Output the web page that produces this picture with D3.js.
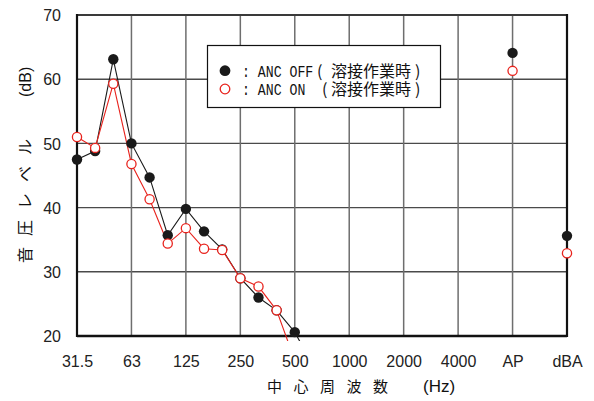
<!DOCTYPE html>
<html><head><meta charset="utf-8">
<script src="https://cdn.jsdelivr.net/npm/d3@7"></script>
<style>
html,body{margin:0;padding:0;background:#fff;}
svg{display:block;}
</style></head>
<body>
<svg id="chart" width="594" height="401"></svg>
<script>
// 1/3 octave bands (Hz)
const bands = ["31.5","40","50","63","80","100","125","160","200","250","315","400","500","630"];
const offLevels = [47.5, 48.8, 63.1, 50.0, 44.7, 35.7, 39.8, 36.3, 33.5, 29.0, 26.0, 24.0, 20.6, 15.4];
const onLevels  = [51.0, 49.3, 59.3, 46.8, 41.3, 34.4, 36.8, 33.6, 33.4, 29.0, 27.7, 24.0, 16.2, null];
// x-axis categories (octave bands + overall values)
const categories = ["31.5","63","125","250","500","1000","2000","4000","AP","dBA"];
const overallLabels = ["AP","dBA"];
const overallOff = [64.1, 35.6];
const overallOn  = [61.3, 32.9];
const yTicks = [20,30,40,50,60,70];
const legendLabels = ["ANC OFF","ANC ON"];
const legendNote = "溶接作業時";

const svg = d3.select("#chart");
const L = 77, R = 567, T = 15, B = 336;
const xCat = d3.scalePoint().domain(categories).range([L, R]);
const xThird = d3.scaleLinear().domain([0, (categories.length - 1) * 3]).range([L, R]);
const y = d3.scaleLinear().domain([20, 70]).range([B, T]);
const bandX = b => xThird(bands.indexOf(b));

// grid
const g = svg.append("g");
g.selectAll("line.h").data(yTicks.filter(v => v > 20 && v < 70)).join("line")
  .attr("x1", L).attr("x2", R).attr("y1", d => y(d)).attr("y2", d => y(d))
  .attr("stroke", "#4a4a4a").attr("stroke-width", 1.4);
g.selectAll("line.v").data(categories.slice(1, -1)).join("line")
  .attr("x1", d => xCat(d)).attr("x2", d => xCat(d)).attr("y1", T).attr("y2", B)
  .attr("stroke", "#6e6e6e").attr("stroke-width", 1.5);
// frame
g.append("line").attr("x1", L).attr("x2", R).attr("y1", T).attr("y2", T).attr("stroke", "#3a3a3a").attr("stroke-width", 2);
g.append("line").attr("x1", L).attr("x2", L).attr("y1", T - 1).attr("y2", B + 1).attr("stroke", "#111").attr("stroke-width", 2.2);
g.append("line").attr("x1", R).attr("x2", R).attr("y1", T - 1).attr("y2", B + 1).attr("stroke", "#111").attr("stroke-width", 2.2);
g.append("line").attr("x1", L).attr("x2", R).attr("y1", B).attr("y2", B).attr("stroke", "#111").attr("stroke-width", 2.4);

// axes labels
const xAxis = d3.axisBottom(xCat).tickSize(0).tickPadding(0);
const xa = svg.append("g").attr("transform", `translate(0,${B})`).call(xAxis);
xa.select(".domain").remove();
xa.selectAll("text").attr("y", 31).attr("dy", 0)
  .attr("font-family", "Liberation Sans, Arial, sans-serif").attr("font-size", 16).attr("fill", "#222");

const yAxis = d3.axisLeft(y).tickValues(yTicks).tickSize(0).tickPadding(0);
const ya = svg.append("g").attr("transform", `translate(61,0)`).call(yAxis);
ya.select(".domain").remove();
ya.selectAll("text").attr("x", 0).attr("dy", "0.36em")
  .attr("font-family", "Liberation Sans, Arial, sans-serif").attr("font-size", 16).attr("fill", "#222");

// clip
svg.append("defs").append("clipPath").attr("id", "clip")
  .append("rect").attr("x", L - 8).attr("y", T - 10).attr("width", R - L + 16).attr("height", 341 - (T - 10));

const plot = svg.append("g").attr("clip-path", "url(#clip)");
const offData = bands.map((b, i) => ({b, v: offLevels[i]}));
const onData = bands.map((b, i) => ({b, v: onLevels[i]}));
const line = d3.line().defined(d => d.v != null).x(d => bandX(d.b)).y(d => y(d.v));

const red = "#e8231d";
plot.append("path").datum(offData).attr("d", line).attr("fill", "none").attr("stroke", "#1a1a1a").attr("stroke-width", 1.1);
plot.append("path").datum(onData).attr("d", line).attr("fill", "none").attr("stroke", red).attr("stroke-width", 1.1);

plot.selectAll("circle.off").data(offData.filter(d => d.v != null)).join("circle")
  .attr("cx", d => bandX(d.b)).attr("cy", d => y(d.v)).attr("r", 5.2).attr("fill", "#1a1a1a");
plot.selectAll("circle.on").data(onData.filter(d => d.v != null)).join("circle")
  .attr("cx", d => bandX(d.b)).attr("cy", d => y(d.v)).attr("r", 4.6)
  .attr("fill", "#fff").attr("stroke", red).attr("stroke-width", 1.3);

// overall values
plot.selectAll("circle.aoff").data(overallLabels).join("circle")
  .attr("cx", d => xCat(d)).attr("cy", (d, i) => y(overallOff[i])).attr("r", 5.2).attr("fill", "#1a1a1a");
plot.selectAll("circle.aon").data(overallLabels).join("circle")
  .attr("cx", d => xCat(d)).attr("cy", (d, i) => y(overallOn[i])).attr("r", 4.6)
  .attr("fill", "#fff").attr("stroke", red).attr("stroke-width", 1.3);

// legend
const lg = svg.append("g");
lg.append("rect").attr("x", 207.5).attr("y", 45.5).attr("width", 233).attr("height", 62)
  .attr("fill", "#fff").attr("stroke", "#111").attr("stroke-width", 1.2);
const rowsY = [70.7, 89];
lg.append("circle").attr("cx", 225).attr("cy", rowsY[0]).attr("r", 5.4).attr("fill", "#1a1a1a");
lg.append("circle").attr("cx", 225).attr("cy", rowsY[1]).attr("r", 4.8).attr("fill", "#fff").attr("stroke", red).attr("stroke-width", 1.3);
const parenX = [317, 322];
legendLabels.forEach((lab, i) => {
  const by = rowsY[i] + 5.8;
  // condensed monospace label: narrow font size scaled vertically
  lg.append("text").attr("transform", `translate(242,${by}) scale(1,1.22)`)
    .attr("font-family", "Liberation Mono, DejaVu Sans Mono, monospace").attr("font-size", 13.2)
    .attr("fill", "#111").text(": " + lab);
  const ct = lg.append("text").attr("fill", "#111").attr("font-size", 16)
    .attr("font-family", "Noto Sans CJK JP, sans-serif");
  ct.append("tspan").attr("x", parenX[i]).attr("y", by).text("(");
  ct.append("tspan").attr("x", 331).attr("y", by).text(legendNote);
  ct.append("tspan").attr("x", 415).attr("y", by).text(")");
});

// axis titles
const xt = svg.append("text").attr("x", 267).attr("y", 392).attr("fill", "#111")
  .attr("font-family", "Noto Sans CJK JP, sans-serif").attr("font-size", 15);
xt.append("tspan").attr("letter-spacing", 11.5).text("中心周波数");
xt.append("tspan").attr("x", 423).attr("letter-spacing", 0)
  .attr("font-family", "Liberation Sans, Arial, sans-serif").attr("font-size", 17).text("(Hz)");

const yt = svg.append("text").attr("transform", "translate(31,263) rotate(-90)").attr("fill", "#111")
  .attr("font-family", "Noto Sans CJK JP, sans-serif").attr("font-size", 16);
yt.append("tspan").attr("letter-spacing", 11).text("音圧レベル");
yt.append("tspan").attr("x", 166).attr("letter-spacing", 0)
  .attr("font-family", "Liberation Sans, Arial, sans-serif").attr("font-size", 16).text("(dB)");
</script>
</body></html>
